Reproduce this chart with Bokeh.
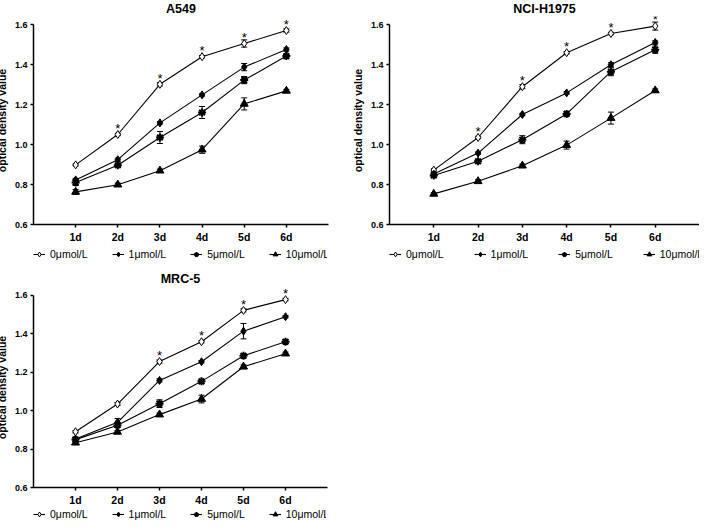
from bokeh.plotting import figure
from bokeh.models import (Range1d, FixedTicker, Legend, LegendItem, Whisker, TeeHead,
                          ColumnDataSource, PrintfTickFormatter)
from bokeh.layouts import column, row
from bokeh.embed import file_html
from bokeh.resources import INLINE
from bokeh.core.properties import value

# ---------------- data ----------------
days = ["1d", "2d", "3d", "4d", "5d", "6d"]
dose_labels = ["0μmol/L", "1μmol/L", "5μmol/L", "10μmol/L"]
y_ticks = [0.6, 0.8, 1.0, 1.2, 1.4, 1.6]

a549_0 = [0.898, 1.050, 1.301, 1.439, 1.505, 1.570]
a549_1 = [0.823, 0.924, 1.108, 1.248, 1.387, 1.475]
a549_5 = [0.810, 0.896, 1.035, 1.160, 1.322, 1.442]
a549_10 = [0.763, 0.799, 0.869, 0.974, 1.203, 1.268]
a549_0_err = [0.005, 0.006, 0.008, 0.006, 0.018, 0.008]
a549_1_err = [0.008, 0.008, 0.006, 0.006, 0.018, 0.008]
a549_5_err = [0.015, 0.006, 0.030, 0.030, 0.018, 0.008]
a549_10_err = [0.012, 0.008, 0.008, 0.018, 0.030, 0.008]
a549_sig = [0, 1, 1, 1, 1, 1]

nci_0 = [0.872, 1.035, 1.289, 1.459, 1.555, 1.592]
nci_1 = [0.852, 0.957, 1.150, 1.258, 1.399, 1.510]
nci_5 = [0.845, 0.916, 1.024, 1.153, 1.364, 1.474]
nci_10 = [0.753, 0.816, 0.894, 0.997, 1.132, 1.270]
nci_0_err = [0.006, 0.006, 0.010, 0.006, 0.006, 0.020]
nci_1_err = [0.008, 0.006, 0.006, 0.006, 0.010, 0.008]
nci_5_err = [0.008, 0.008, 0.020, 0.008, 0.020, 0.018]
nci_10_err = [0.006, 0.008, 0.008, 0.020, 0.030, 0.008]
nci_sig = [0, 1, 1, 1, 1, 1]

mrc_0 = [0.890, 1.034, 1.255, 1.358, 1.521, 1.577]
mrc_1 = [0.852, 0.939, 1.157, 1.254, 1.413, 1.488]
mrc_5 = [0.849, 0.924, 1.036, 1.152, 1.285, 1.358]
mrc_10 = [0.833, 0.889, 0.979, 1.060, 1.228, 1.296]
mrc_0_err = [0.006, 0.008, 0.008, 0.006, 0.008, 0.006]
mrc_1_err = [0.010, 0.020, 0.008, 0.006, 0.040, 0.006]
mrc_5_err = [0.010, 0.012, 0.020, 0.008, 0.008, 0.008]
mrc_10_err = [0.010, 0.008, 0.008, 0.020, 0.010, 0.008]
mrc_sig = [0, 0, 1, 1, 1, 1]

FONT = "Liberation Sans"
markers = ["diamond", "diamond", "asterisk", "triangle"]
fills = ["white", "black", "black", "black"]
msizes = [8, 8, 8, 8]
NAN = float("nan")


def style_kwargs(k):
    return dict(marker=markers[k], size=msizes[k], fill_color=fills[k], line_color="black",
                line_width=2 if markers[k] == "asterisk" else 1)


def make_panel(title, series, errs, sig, fw, fh, bl, br, bt, bb, title_standoff):
    p = figure(frame_width=fw, frame_height=fh, x_range=Range1d(0, 7), y_range=Range1d(0.6, 1.64),
               output_backend="svg", toolbar_location=None, title=title,
               min_border_left=bl, min_border_right=br, min_border_top=bt, min_border_bottom=bb)
    p.title.align = "center"
    p.title.text_font = FONT
    p.title.text_font_size = "12.5px"
    p.title.text_font_style = "bold"
    p.title.text_color = "black"
    p.title.standoff = title_standoff
    p.xgrid.visible = False
    p.ygrid.visible = False
    p.outline_line_color = None

    xs = list(range(1, len(days) + 1))
    p.xaxis.ticker = FixedTicker(ticks=xs)
    p.xaxis.major_label_overrides = {x: d for x, d in zip(xs, days)}
    p.yaxis.ticker = FixedTicker(ticks=y_ticks)
    p.yaxis.bounds = (y_ticks[0], y_ticks[-1])
    p.yaxis.formatter = PrintfTickFormatter(format="%.1f")
    p.yaxis.axis_label = "optical density value"
    p.yaxis.axis_label_text_font = FONT
    p.yaxis.axis_label_text_font_size = "10.5px"
    p.yaxis.axis_label_text_font_style = "bold"
    p.yaxis.axis_label_text_color = "black"
    p.yaxis.axis_label_standoff = 4
    for ax in (p.xaxis, p.yaxis):
        ax.axis_line_width = 1.5
        ax.axis_line_color = "black"
        ax.major_tick_line_color = "black"
        ax.major_tick_line_width = 1.5
        ax.major_tick_in = 0
        ax.major_tick_out = 3
        ax.minor_tick_line_color = None
        ax.major_label_text_font = FONT
        ax.major_label_text_font_style = "bold"
        ax.major_label_text_color = "black"
    p.xaxis.major_label_text_font_size = "10.5px"
    p.yaxis.major_label_text_font_size = "9px"
    p.xaxis.major_label_standoff = 3
    p.yaxis.major_label_standoff = 3

    for k, (vals, err) in enumerate(zip(series, errs)):
        src = ColumnDataSource(dict(x=xs, y=vals,
                                    lo=[v - e for v, e in zip(vals, err)],
                                    hi=[v + e for v, e in zip(vals, err)]))
        wh = Whisker(source=src, base="x", lower="lo", upper="hi", line_color="black", line_width=1,
                     lower_head=TeeHead(size=6, line_color="black", line_width=1),
                     upper_head=TeeHead(size=6, line_color="black", line_width=1))
        p.add_layout(wh)
        p.line("x", "y", source=src, line_color="black", line_width=1.1)
        p.scatter("x", "y", source=src, **style_kwargs(k))

    top = series[0]
    sx = [x for x, s in zip(xs, sig) if s]
    sy = [v + 0.031 for v, s in zip(top, sig) if s]
    p.text(x=sx, y=sy, text=["*"] * len(sx), text_align="center", text_baseline="alphabetic",
           text_font=value(FONT), text_font_size="13px", text_color="black")
    return p


def make_legend(w, h, x0, spacing):
    lf = figure(width=w, height=h, x_range=Range1d(0, 1), y_range=Range1d(0, 1),
                x_axis_type=None, y_axis_type=None, output_backend="svg", toolbar_location=None,
                min_border=0)
    lf.xgrid.visible = False
    lf.ygrid.visible = False
    lf.outline_line_color = None
    items = []
    for k, lab in enumerate(dose_labels):
        lr = lf.line(x=[NAN], y=[NAN], line_color="black", line_width=1.1)
        sr = lf.scatter(x=[NAN], y=[NAN], **style_kwargs(k))
        items.append(LegendItem(label=lab, renderers=[lr, sr]))
    leg = Legend(items=items, orientation="horizontal", location=(x0, 0))
    leg.border_line_color = None
    leg.background_fill_alpha = 0
    leg.label_text_font = FONT
    leg.label_text_font_size = "10.5px"
    leg.label_text_color = "black"
    leg.label_text_baseline = "middle"
    leg.glyph_width = 12
    leg.glyph_height = 12
    leg.label_height = 12
    leg.label_standoff = 5
    leg.spacing = spacing
    leg.padding = 0
    leg.margin = 0
    lf.add_layout(leg)
    return lf


f1 = make_panel("A549", [a549_0, a549_1, a549_5, a549_10],
                [a549_0_err, a549_1_err, a549_5_err, a549_10_err], a549_sig,
                295, 208, 40, 17, 24, 20, 1)
l1 = make_legend(352, 15, 0, 24)
f2 = make_panel("NCI-H1975", [nci_0, nci_1, nci_5, nci_10],
                [nci_0_err, nci_1_err, nci_5_err, nci_10_err], nci_sig,
                310, 208, 44, 0, 24, 20, 1)
l2 = make_legend(354, 15, 0, 30)
f3 = make_panel("MRC-5", [mrc_0, mrc_1, mrc_5, mrc_10],
                [mrc_0_err, mrc_1_err, mrc_5_err, mrc_10_err], mrc_sig,
                294, 200, 40, 18, 27, 20, 3)
l3 = make_legend(352, 12, 0, 24)

layout = column(row(column(f1, l1), column(f2, l2)), column(f3, l3), margin=(-8, -8, -8, -8))
open("out.html", "w").write(file_html(layout, INLINE))
